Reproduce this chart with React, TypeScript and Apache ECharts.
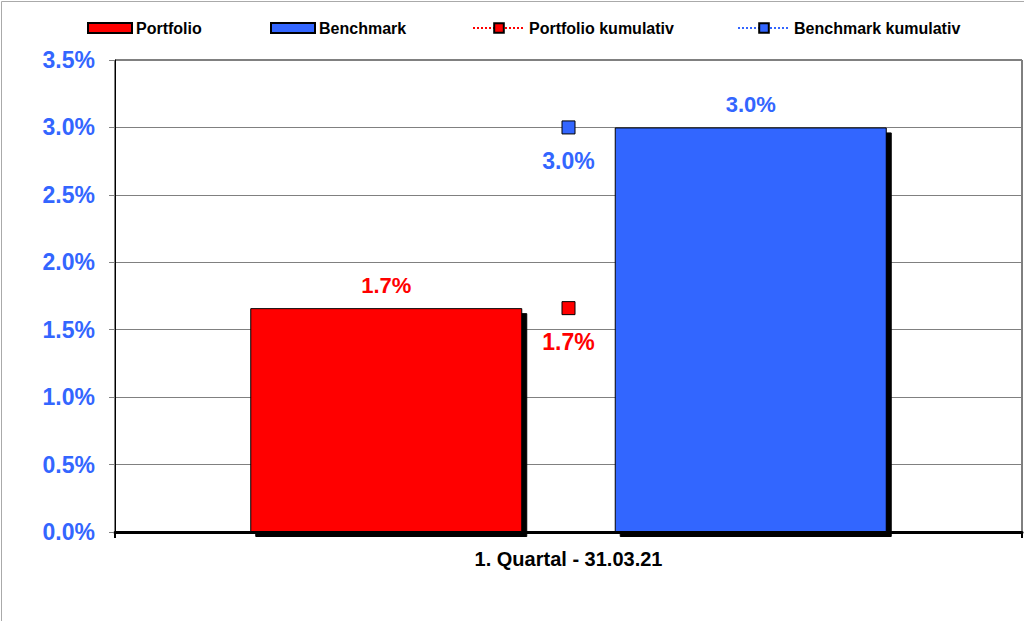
import React, { useEffect, useRef } from "react";
import * as echarts from "echarts";

const categories = ["1. Quartal - 31.03.21"];
const portfolio = [1.66];
const benchmark = [3.0];
const portfolioCum = [1.66];
const benchmarkCum = [3.0];
const seriesNames = ["Portfolio", "Benchmark", "Portfolio kumulativ", "Benchmark kumulativ"];

const RED = "#FF0000";
const BLUE = "#3366FF";
const FONT = "Liberation Sans, Arial, sans-serif";

const pct = (p: any) => (typeof p.value === "number" ? p.value : p.value[1]).toFixed(1) + "%";

export default function App() {
  const ref = useRef<HTMLDivElement>(null);
  useEffect(() => {
    document.body.style.margin = "0";
    const chart = echarts.init(ref.current!, null, { renderer: "svg" });
    const legendText = { fontFamily: FONT, fontWeight: "bold" as const, fontSize: 16, color: "#000", padding: [0, 0, 0, -1] };
    const barLegend = { itemWidth: 44, itemHeight: 10, icon: "rect", itemStyle: { borderColor: "#000", borderWidth: 2 } };
    chart.setOption({
      animation: false,
      backgroundColor: "#fff",
      graphic: [
        { type: "line", shape: { x1: 1.5, y1: 1.5, x2: 1.5, y2: 621 }, style: { stroke: "#aaa", lineWidth: 1 } },
        { type: "line", shape: { x1: 1.5, y1: 1.5, x2: 1024, y2: 1.5 }, style: { stroke: "#aaa", lineWidth: 1 } },
      ],
      legend: [
        { data: [seriesNames[0]], left: 82, top: 15, ...barLegend, textStyle: legendText },
        { data: [seriesNames[1]], left: 265, top: 15, ...barLegend, textStyle: legendText },
        { data: [seriesNames[2]], left: 467, top: 15, itemWidth: 52, itemHeight: 12, textStyle: legendText },
        { data: [seriesNames[3]], left: 732, top: 15, itemWidth: 52, itemHeight: 12, textStyle: legendText },
      ],
      grid: {
        left: 115,
        right: 2,
        top: 60,
        bottom: 89,
        show: true,
        borderColor: "#000",
        borderWidth: 1,
        containLabel: false,
      },
      xAxis: {
        type: "category",
        data: categories,
        axisLine: { lineStyle: { color: "#000", width: 3 } },
        axisTick: { show: true, length: 6, lineStyle: { color: "#000", width: 2 } },
        axisLabel: { fontFamily: FONT, fontWeight: "bold", fontSize: 20, color: "#000", margin: 17 },
      },
      yAxis: {
        type: "value",
        min: 0,
        max: 3.5,
        interval: 0.5,
        axisLine: { show: true, lineStyle: { color: "#000", width: 1 } },
        axisTick: { show: true, length: 6, lineStyle: { color: "#808080" } },
        splitLine: { lineStyle: { color: "#808080", width: 1 } },
        axisLabel: {
          formatter: (v: number) => v.toFixed(1) + "%",
          fontFamily: FONT,
          fontWeight: "bold",
          fontSize: 23,
          color: BLUE,
          margin: 20,
        },
      },
      series: [
        {
          name: seriesNames[0],
          type: "bar",
          data: portfolio,
          barWidth: 272,
          barGap: "34%",
          itemStyle: { color: RED, borderColor: "#000", borderWidth: 1, shadowColor: "#000", shadowOffsetX: 5, shadowOffsetY: 5, shadowBlur: 0 },
          label: { show: true, position: "top", distance: 12, formatter: pct, fontFamily: FONT, fontWeight: "bold", fontSize: 22, color: RED },
          z: 2,
        },
        {
          name: seriesNames[1],
          type: "bar",
          data: benchmark,
          barWidth: 272,
          barGap: "34%",
          itemStyle: { color: BLUE, borderColor: "#000", borderWidth: 1, shadowColor: "#000", shadowOffsetX: 5, shadowOffsetY: 5, shadowBlur: 0 },
          label: { show: true, position: "top", distance: 12, formatter: pct, fontFamily: FONT, fontWeight: "bold", fontSize: 22, color: BLUE },
          z: 2,
        },
        {
          name: seriesNames[2],
          type: "line",
          data: portfolioCum,
          symbol: "rect",
          symbolSize: 13,
          lineStyle: { color: RED, type: "dotted", width: 4 },
          itemStyle: { color: RED, borderColor: "#000", borderWidth: 1 },
          label: { show: true, position: "bottom", distance: 15, formatter: pct, fontFamily: FONT, fontWeight: "bold", fontSize: 23, color: RED },
          z: 5,
        },
        {
          name: seriesNames[3],
          type: "line",
          data: benchmarkCum,
          symbol: "rect",
          symbolSize: 13,
          lineStyle: { color: BLUE, type: "dotted", width: 4 },
          itemStyle: { color: BLUE, borderColor: "#000", borderWidth: 1 },
          label: { show: true, position: "bottom", distance: 15, formatter: pct, fontFamily: FONT, fontWeight: "bold", fontSize: 23, color: BLUE },
          z: 5,
        },
      ],
    });
    return () => chart.dispose();
  }, []);
  return <div ref={ref} style={{ width: 1024, height: 621 }} />;
}
